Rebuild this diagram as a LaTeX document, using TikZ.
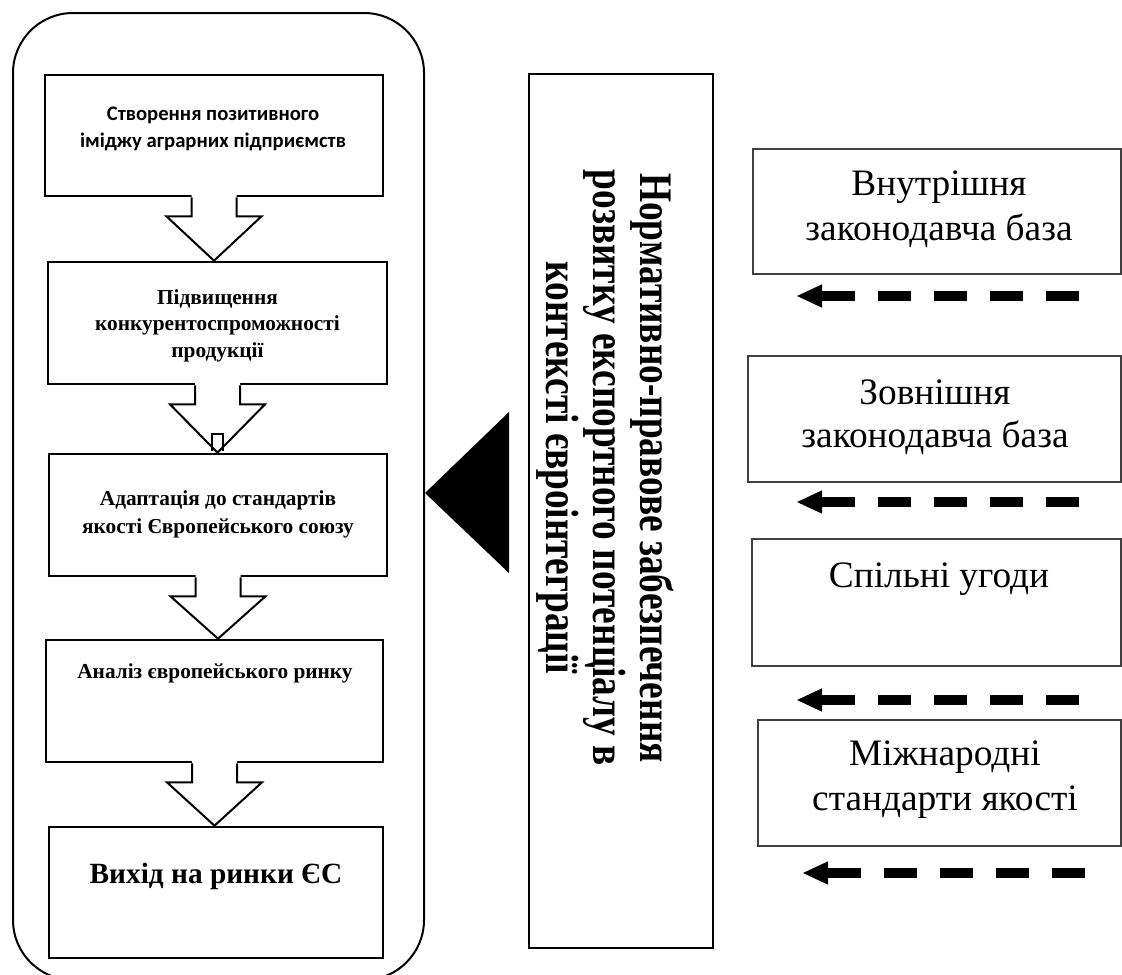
\documentclass[tikz,border=0pt]{standalone}
\usepackage{fontspec}
\setmainfont{Liberation Serif}
\newfontfamily\calfont{Carlito}
\usetikzlibrary{calc,fit,arrows.meta}
\newcommand\mlines[1]{\begin{tabular}[t]{@{}c@{}}#1\end{tabular}}
\begin{document}
\begin{tikzpicture}[x=0.75pt,y=-0.75pt,
  outerbox/.style={draw, line width=1.5pt, rounded corners=45pt, inner sep=0pt},
  lbox/.style={draw, line width=2pt, inner sep=0pt},
  vbox/.style={draw, line width=0.9pt, inner sep=0pt},
  rbox/.style={draw=black!75, line width=1pt, inner sep=0pt},
  ltxt/.style={anchor=base, inner sep=0pt, font=\bfseries\fontsize{16}{20}\selectfont},
  rtxt/.style={anchor=base, inner sep=0pt, font=\fontsize{28}{33.75}\selectfont},
  blockarr/.style={draw, line width=1.5pt, line join=miter},
  dasharr/.style={line width=8pt, dash pattern=on 24.75pt off 17.25pt,
    -{Triangle[length=18.75pt,width=17.5pt,line width=0pt]}}
]
\useasboundingbox (0,0) rectangle (1122,975);
\clip (0,0) rectangle (1122,975);

% outer group
\node[outerbox, fit={(13,13) (424,980)}] (grp) {};

% left boxes
\node[lbox, fit={(45,75) (383,196)}] (b1) {};
\node[lbox, fit={(48,262) (387,384)}] (b2) {};
\node[lbox, fit={(49,454) (387,576)}] (b3) {};
\node[lbox, fit={(46,640) (383,762)}] (b4) {};
\node[lbox, fit={(49,827) (383,958)}] (b5) {};

\node[ltxt, font=\calfont\bfseries\fontsize{15.5}{20.5}\selectfont] (t1) at (213,120)
  {\mlines{Створення позитивного\\іміджу аграрних підприємств}};
\node[ltxt] (t2) at (217.5,304) {\mlines{Підвищення\\конкурентоспроможності\\продукції}};
\node[ltxt, font=\bfseries\fontsize{16}{21}\selectfont] (t3) at (218,505)
  {\mlines{Адаптація до стандартів\\якості Європейського союзу}};
\node[ltxt] (t4) at (215,678) {Аналіз європейського ринку};
\node[ltxt, font=\bfseries\fontsize{22}{26}\selectfont] (t5) at (216,883) {Вихід на ринки ЄС};

% block arrows
\foreach \u/\l in {b1/b2, b2/b3, b3/b4, b4/b5}{
  \fill[white] ($(\u.south)+(-22.5,-3)$) -- ($(\u.south)+(-22.5,19)$) -- ($(\u.south)+(-47.5,19)$)
    -- (\u.south |- \l.north) -- ($(\u.south)+(47.5,19)$) -- ($(\u.south)+(22.5,19)$)
    -- ($(\u.south)+(22.5,-3)$) -- cycle;
  \draw[blockarr] ($(\u.south)+(-22.5,0)$) -- ($(\u.south)+(-22.5,19)$) -- ($(\u.south)+(-47.5,19)$)
    -- (\u.south |- \l.north) -- ($(\u.south)+(47.5,19)$) -- ($(\u.south)+(22.5,19)$)
    -- ($(\u.south)+(22.5,0)$);
}
\draw[line width=1.5pt] (212,451) -- (212,434) -- (223,434) -- (223,451);

% vertical box
\node[vbox, fit={(529,74) (713,948)}] (vb) {};
\node[anchor=base, inner sep=0pt, rotate=-90, font=\bfseries\fontsize{35}{35}\selectfont] (vt) at (640,468)
  {\scalebox{0.8}[1]{\mlines{Нормативно-правове забезпечення\\розвитку експортного потенціалу в\\контексті євроінтеграції}}};

% big triangle
\coordinate (trb) at (509,493);
\fill ($(trb)+(0,-81)$) -- ($(trb)+(0,80)$) -- (grp.east |- trb) -- cycle;

% right boxes
\node[rbox, fit={(753,149) (1121,274)}] (r1) {};
\node[rbox, fit={(748,356) (1121,482)}] (r2) {};
\node[rbox, fit={(752,539) (1121,666)}] (r3) {};
\node[rbox, fit={(758,720) (1121,846)}] (r4) {};

\node[rtxt] (rt1) at (939,195) {\mlines{Внутрішня\\законодавча база}};
\node[rtxt, font=\fontsize{28}{32.25}\selectfont] (rt2) at (935,404) {\mlines{Зовнішня\\законодавча база}};
\node[rtxt] (rt3) at (939,587) {Спільні угоди};
\node[rtxt] (rt4) at (945,765) {\mlines{Міжнародні\\стандарти якості}};

% dashed arrows
\coordinate (d1s) at (1079,296); \coordinate (d1e) at (797,296);
\coordinate (d2s) at (1079,502); \coordinate (d2e) at (797,502);
\coordinate (d3s) at (1079,700); \coordinate (d3e) at (797,700);
\coordinate (d4s) at (1085,873); \coordinate (d4e) at (803,873);
\draw[dasharr] (d1s) -- (d1e);
\draw[dasharr] (d2s) -- (d2e);
\draw[dasharr] (d3s) -- (d3e);
\draw[dasharr] (d4s) -- (d4e);
\end{tikzpicture}
\end{document}
